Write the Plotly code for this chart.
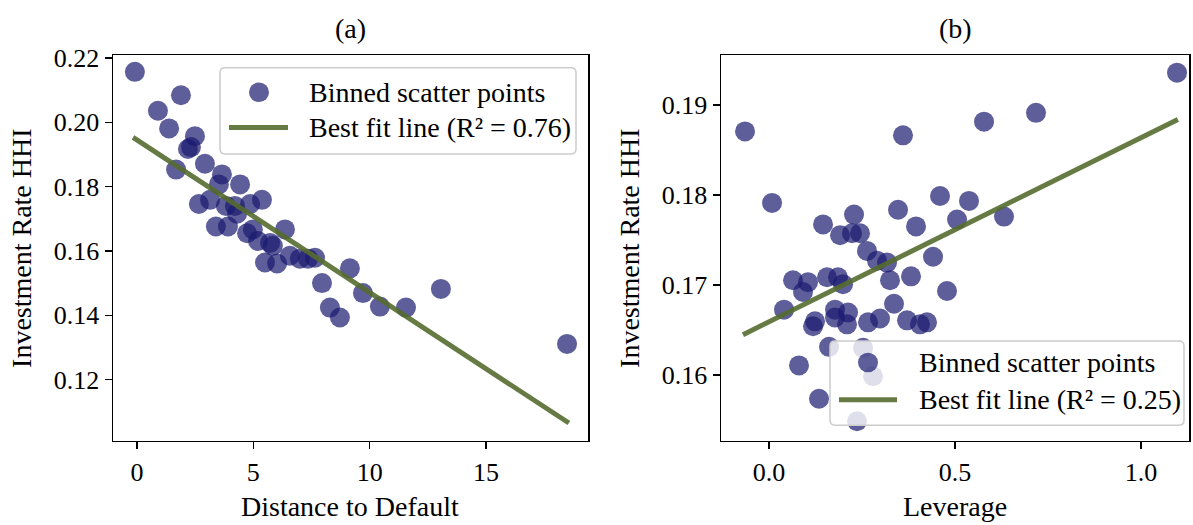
import plotly.graph_objects as go

W, H = 1193, 525

# ---------------- data: panel (a) ----------------
dd_x = [-0.09, 0.90, 1.89, 1.38, 2.49, 2.19, 2.32, 1.68, 2.92, 3.65, 3.52, 4.43,
        5.37, 2.66, 3.14, 3.82, 4.21, 4.86, 3.39, 3.91, 4.30, 4.73, 4.98, 5.20,
        5.72, 5.50, 6.02, 6.36, 5.84, 6.57, 7.00, 7.35, 7.65, 9.15, 7.95, 9.71,
        8.29, 8.72, 10.44, 11.56, 13.06, 18.48]
dd_y = [0.2157, 0.2036, 0.2084, 0.1981, 0.1957, 0.1917, 0.1923, 0.1853, 0.1871,
        0.1838, 0.1807, 0.1807, 0.1759, 0.1746, 0.1759, 0.1740, 0.1740, 0.1746,
        0.1676, 0.1676, 0.1716, 0.1655, 0.1667, 0.1631, 0.1625, 0.1564, 0.1561,
        0.1667, 0.1616, 0.1585, 0.1576, 0.1576, 0.1579, 0.1546, 0.1500, 0.1469,
        0.1424, 0.1393, 0.1427, 0.1424, 0.1482, 0.1311]
fit_a_x = [-0.17, 18.56]
fit_a_y = [0.1953, 0.1065]

# ---------------- data: panel (b) ----------------
lev_x = [-0.0645, 0.0081, 1.0968, 0.7177, 0.5780, 0.3602, 0.1452, 0.2285, 0.1909,
         0.2231, 0.2446, 0.3468, 0.3952, 0.4597, 0.5054, 0.5376, 0.6317, 0.2634,
         0.2903, 0.3172, 0.4409, 0.3253, 0.3817, 0.4785, 0.0645, 0.1048, 0.0914,
         0.1559, 0.1855, 0.1989, 0.0403, 0.3360, 0.1237, 0.1183, 0.1774, 0.1774,
         0.2124, 0.2097, 0.2661, 0.2984, 0.3710, 0.4059, 0.4247, 0.1613, 0.0806,
         0.2527, 0.2796, 0.1344, 0.2366]
lev_y = [0.18707, 0.17913, 0.19359, 0.18913, 0.18815, 0.18663, 0.17674, 0.17783,
         0.17554, 0.17576, 0.17576, 0.17837, 0.17652, 0.17989, 0.17728, 0.17935,
         0.17761, 0.17380, 0.17272, 0.17250, 0.17315, 0.17054, 0.17098, 0.16935,
         0.17054, 0.17033, 0.16924, 0.17087, 0.17087, 0.17011, 0.16728, 0.16793,
         0.16598, 0.16543, 0.16728, 0.16641, 0.16696, 0.16565, 0.16587, 0.16630,
         0.16609, 0.16565, 0.16587, 0.16315, 0.16109, 0.16304, 0.15989, 0.15739,
         0.15489]
fit_b_x = [-0.070, 1.099]
fit_b_y = [0.1645, 0.1884]

panel_titles = ["(a)", "(b)"]
x_titles = ["Distance to Default", "Leverage"]
y_title = "Investment Rate HHI"
legend_a = ["Binned scatter points", "Best fit line (R\u00b2 = 0.76)"]
legend_b = ["Binned scatter points", "Best fit line (R\u00b2 = 0.25)"]

a_xticks = [0, 5, 10, 15]
a_yticks = [0.12, 0.14, 0.16, 0.18, 0.20, 0.22]
b_xticks = [0.0, 0.5, 1.0]
b_yticks = [0.16, 0.17, 0.18, 0.19]

# ---------------- style ----------------
PT_COLOR = "rgba(25,25,112,0.7)"
LINE_COLOR = "rgba(85,107,47,0.9)"
FONT = "Liberation Serif"
TXT = 28
TICK = 26

fig = go.Figure()
fig.add_trace(go.Scatter(x=dd_x, y=dd_y, mode="markers", xaxis="x", yaxis="y",
                         marker=dict(size=20, color=PT_COLOR, line=dict(width=0)),
                         showlegend=False))
fig.add_trace(go.Scatter(x=fit_a_x, y=fit_a_y, mode="lines", xaxis="x", yaxis="y",
                         line=dict(color=LINE_COLOR, width=5), showlegend=False))
fig.add_trace(go.Scatter(x=lev_x, y=lev_y, mode="markers", xaxis="x2", yaxis="y2",
                         marker=dict(size=20, color=PT_COLOR, line=dict(width=0)),
                         showlegend=False))
fig.add_trace(go.Scatter(x=fit_b_x, y=fit_b_y, mode="lines", xaxis="x2", yaxis="y2",
                         line=dict(color=LINE_COLOR, width=5), showlegend=False))

axis_common = dict(showline=True, mirror=True, linecolor="black", linewidth=1.5,
                   ticks="outside", ticklen=7, tickwidth=1.5, tickcolor="black",
                   showgrid=False, zeroline=False,
                   tickfont=dict(family=FONT, size=TICK, color="black"))

def fx(px):
    return px / W

def fy(py):
    return 1 - py / H

fig.update_layout(
    width=W, height=H, margin=dict(l=0, r=0, t=0, b=0),
    paper_bgcolor="white", plot_bgcolor="white", showlegend=False,
    xaxis=dict(domain=[fx(113), fx(588)], range=[-1.031, 19.381], anchor="y",
               tickvals=a_xticks, **axis_common),
    yaxis=dict(domain=[fy(439), fy(45)], range=[0.10097, 0.22091], anchor="x",
               tickvals=a_yticks, tickformat=".2f", **axis_common),
    xaxis2=dict(domain=[fx(721), fx(1189)], range=[-0.1291, 1.1290], anchor="y2",
                tickvals=b_xticks, tickformat=".1f", **axis_common),
    yaxis2=dict(domain=[fy(439), fy(45)], range=[0.152717, 0.195543], anchor="x2",
                tickvals=b_yticks, tickformat=".2f", **axis_common),
)

shapes = []
annots = []

def rounded_box(x0, y0, x1, y1, r=5):
    rx, ry = r / W, r / H
    X0, X1, Y0, Y1 = fx(x0), fx(x1), fy(y0), fy(y1)
    return (f"M {X0+rx},{Y0} L {X1-rx},{Y0} Q {X1},{Y0} {X1},{Y0-ry} "
            f"L {X1},{Y1+ry} Q {X1},{Y1} {X1-rx},{Y1} L {X0+rx},{Y1} "
            f"Q {X0},{Y1} {X0},{Y1+ry} L {X0},{Y0-ry} Q {X0},{Y0} {X0+rx},{Y0} Z")

def add_legend(box, mk, ln, tx, labels):
    shapes.append(dict(type="path", xref="paper", yref="paper", layer="above",
                       path=rounded_box(*box), fillcolor="rgba(255,255,255,0.8)",
                       line=dict(color="rgb(204,204,204)", width=1.5)))
    cx, cy = mk
    shapes.append(dict(type="circle", xref="paper", yref="paper", layer="above",
                       x0=fx(cx - 10), x1=fx(cx + 10), y0=fy(cy + 10), y1=fy(cy - 10),
                       fillcolor=PT_COLOR, line=dict(width=0)))
    lx0, lx1, ly = ln
    shapes.append(dict(type="line", xref="paper", yref="paper", layer="above",
                       x0=fx(lx0), x1=fx(lx1), y0=fy(ly), y1=fy(ly),
                       line=dict(color=LINE_COLOR, width=5)))
    for lab, yy in zip(labels, [cy, ly]):
        annots.append(dict(text=lab, xref="paper", yref="paper", x=fx(tx), y=fy(yy),
                           xanchor="left", yanchor="middle", showarrow=False,
                           font=dict(family=FONT, size=TXT, color="black")))

add_legend((220, 58, 576, 146), (259, 83), (229, 288, 119), 307, legend_a)
add_legend((830, 337, 1184, 423), (868, 359), (839, 897, 397), 917, legend_b)

# titles and axis labels
for t, cx in zip(panel_titles, [350, 955]):
    annots.append(dict(text=t, xref="paper", yref="paper", x=fx(cx), y=fy(18),
                       xanchor="center", yanchor="middle", showarrow=False,
                       font=dict(family=FONT, size=TXT, color="black")))
for t, cx in zip(x_titles, [350, 955]):
    annots.append(dict(text=t, xref="paper", yref="paper", x=fx(cx), y=fy(506),
                       xanchor="center", yanchor="middle", showarrow=False,
                       font=dict(family=FONT, size=TXT, color="black")))
for cx in [22, 630]:
    annots.append(dict(text=y_title, xref="paper", yref="paper", x=fx(cx), y=fy(242),
                       xanchor="center", yanchor="middle", showarrow=False, textangle=-90,
                       font=dict(family=FONT, size=TXT, color="black")))

fig.update_layout(shapes=shapes, annotations=annots)
fig.write_html("out.html",
               config={"displayModeBar": False, "staticPlot": True},
               post_script="document.body.style.margin='0';"
                           "document.body.style.padding='0';"
                           "document.body.style.overflow='hidden';")
